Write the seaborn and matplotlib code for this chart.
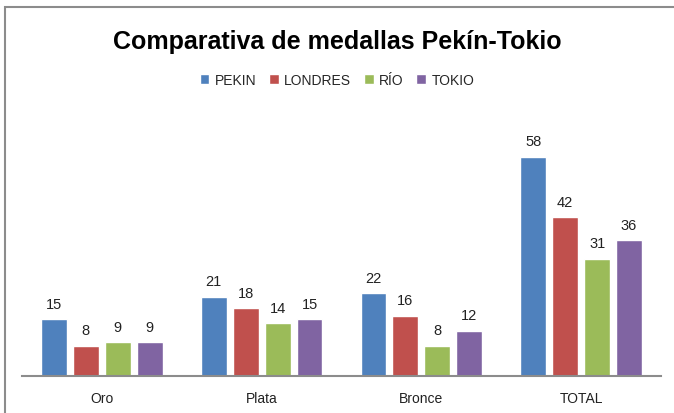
import pandas as pd
import matplotlib.pyplot as plt
import matplotlib.patches as mpatches
import seaborn as sns

# Data
categories = ['Oro', 'Plata', 'Bronce', 'TOTAL']
series = ['PEKIN', 'LONDRES', 'RÍO', 'TOKIO']
pekin = [15, 21, 22, 58]
londres = [8, 18, 16, 42]
rio = [9, 14, 8, 31]
tokio = [9, 15, 12, 36]
colors = ['#4F81BD', '#C0504D', '#9BBB59', '#8064A2']

rows = []
for name, vals in zip(series, [pekin, londres, rio, tokio]):
    for cat, v in zip(categories, vals):
        rows.append({'Categoria': cat, 'Pais': name, 'Medallas': v})
df = pd.DataFrame(rows)

sns.set_theme(style="white")
plt.rcParams['font.family'] = ['Liberation Sans', 'DejaVu Sans']

W, H = 674, 414
fig = plt.figure(figsize=(W / 100, H / 100), dpi=100)
ax = fig.add_axes([22 / W, 1 - 377 / H, (661 - 22) / W, (377 - 100) / H])

sns.barplot(data=df, x='Categoria', y='Medallas', hue='Pais', order=categories,
            hue_order=series, palette=colors, width=0.8, gap=0.19,
            saturation=1, ax=ax, legend=True)

for cont in ax.containers:
    ax.bar_label(cont, padding=6, fontsize=10.5, color='#222222')

ax.set_xlim(-0.5, 3.5)
ax.set_ylim(0, (377 - 100) / 3.78)
ax.set_yticks([])
ax.set_xlabel('')
ax.set_ylabel('')
for s in ['top', 'right', 'left']:
    ax.spines[s].set_visible(False)
ax.spines['bottom'].set_color('#8c8c8c')
ax.spines['bottom'].set_linewidth(1.5)
ax.tick_params(axis='x', length=0, pad=11, labelsize=10, labelcolor='#222222')

handles, labels = ax.get_legend_handles_labels()
ax.legend(handles, labels, loc='center', bbox_to_anchor=(0.5, 1 - 81 / H),
          bbox_transform=fig.transFigure, ncol=4, frameon=False, fontsize=10,
          handlelength=0.7, handleheight=0.7, handletextpad=0.4, columnspacing=0.9)

fig.text(0.5, 1 - 42 / H, 'Comparativa de medallas Pekín-Tokio', ha='center',
         va='center', fontsize=18, fontweight='bold', color='black')

# chart frame (only left and top edges visible)
frame = mpatches.Rectangle((4.5 / W, -0.05), 1.1, 1.05 - 7.5 / H,
                           transform=fig.transFigure, fill=False,
                           edgecolor='#8c8c8c', linewidth=1.5)
fig.add_artist(frame)

fig.savefig('out.png', dpi=100)
